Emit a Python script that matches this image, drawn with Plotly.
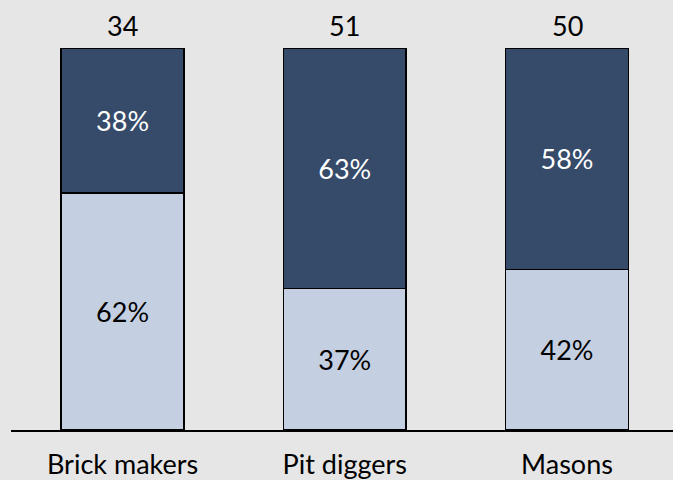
import plotly.graph_objects as go

categories = ["Brick makers", "Pit diggers", "Masons"]
totals = [34, 51, 50]
lower_pct = [62, 37, 42]
upper_pct = [38, 63, 58]

FONT = "Lato"
FS = 27
DARK = "#364a6a"
LIGHT = "#c4cfe1"

fig = go.Figure()
fig.add_trace(go.Bar(
    x=categories, y=[v / 100 for v in lower_pct],
    text=[f"{v}%" for v in lower_pct], textposition="inside",
    insidetextanchor="middle", textangle=0,
    textfont=dict(color="black", size=FS, family=FONT),
    marker=dict(color=LIGHT, line=dict(color="black", width=1.5)),
    width=0.553, hoverinfo="skip",
))
fig.add_trace(go.Bar(
    x=categories, y=[v / 100 for v in upper_pct],
    text=[f"{v}%" for v in upper_pct], textposition="inside",
    insidetextanchor="middle", textangle=0,
    textfont=dict(color="white", size=FS, family=FONT),
    marker=dict(color=DARK, line=dict(color="black", width=1.5)),
    width=0.553, hoverinfo="skip",
))
for c, t in zip(categories, totals):
    fig.add_annotation(x=c, y=1.0, text=str(t), showarrow=False,
                       yanchor="bottom", yshift=4,
                       font=dict(size=FS, color="black", family=FONT))

fig.update_layout(
    barmode="stack", width=673, height=480,
    margin=dict(l=11, r=0, t=48, b=48),
    paper_bgcolor="#e6e6e6", plot_bgcolor="#e6e6e6",
    showlegend=False, font=dict(family=FONT, size=FS, color="black"),
    uniformtext=dict(minsize=FS, mode="show"),
)
fig.update_xaxes(range=[-0.502, 2.477], showline=True, linecolor="black",
                 linewidth=2, showgrid=False, ticks="outside", ticklen=10,
                 tickcolor="rgba(0,0,0,0)", tickfont=dict(size=FS, family=FONT))
fig.update_yaxes(range=[0, 1], visible=False)

fig.write_html("out.html")
